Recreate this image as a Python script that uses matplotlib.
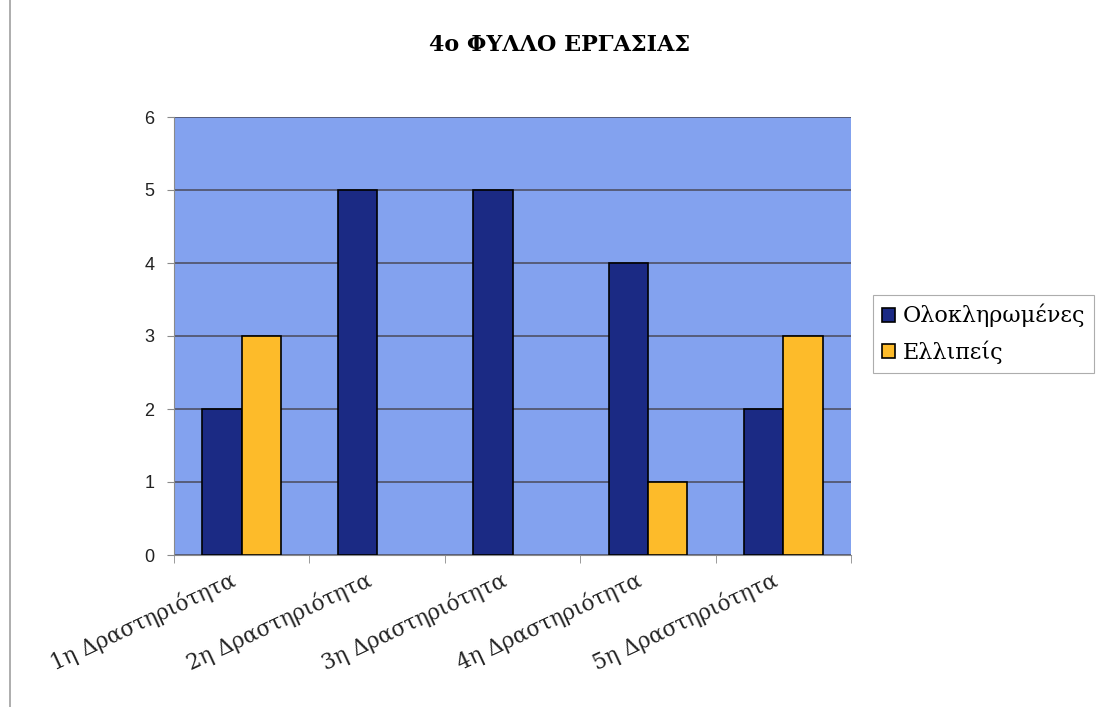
import matplotlib
matplotlib.use('Agg')
import matplotlib.pyplot as plt
import matplotlib.transforms as mtransforms
from matplotlib.lines import Line2D
import numpy as np

title = '4ο ΦΥΛΛΟ ΕΡΓΑΣΙΑΣ'
categories = ['1η Δραστηριότητα', '2η Δραστηριότητα', '3η Δραστηριότητα',
              '4η Δραστηριότητα', '5η Δραστηριότητα']
series_names = ['Ολοκληρωμένες', 'Ελλιπείς']
completed = [2, 5, 5, 4, 2]
incomplete = [3, 0, 0, 1, 3]

bg_color = '#83a2ef'
dark_blue = '#1b2a84'
yellow = '#fdbb2a'

fig = plt.figure(figsize=(11.02, 7.07), dpi=100)
ax = fig.add_axes([174 / 1102, 1 - 555 / 707, 677 / 1102, 438 / 707])

x = np.arange(len(categories))
w = 0.29
b1 = ax.bar(x - w / 2, completed, w, color=dark_blue, edgecolor='black', linewidth=1.2,
            label=series_names[0], zorder=3)
b2 = ax.bar(x + w / 2, incomplete, w, color=yellow, edgecolor='black', linewidth=1.2,
            label=series_names[1], zorder=3)
# empty bars leave no outline on the axis
for bars in (b1, b2):
    for p in bars:
        if p.get_height() == 0:
            p.set_visible(False)

ax.set_facecolor(bg_color)
ax.set_xlim(-0.5, len(categories) - 0.5)
ax.set_ylim(0, 6)
ax.set_yticks(range(7))
ax.yaxis.grid(True, color='#4a4a5a', linewidth=1.1, zorder=1)
ax.set_axisbelow(True)

for side in ['top', 'right']:
    ax.spines[side].set_visible(False)
ax.spines['left'].set_color('#8a8a8a')
ax.spines['bottom'].set_color('#8a8a8a')

ax.tick_params(axis='y', labelsize=13, length=5, color='#8a8a8a', pad=9)
for lab in ax.get_yticklabels():
    lab.set_family('Liberation Sans')
    lab.set_color('#222222')

# category labels sit at the centres, tick marks between categories
ax.set_xticks(x)
ax.set_xticklabels(categories, rotation=25, ha='right', rotation_mode='anchor',
                   family='DejaVu Serif', fontsize=15.5, color='#222222')
ax.tick_params(axis='x', which='major', length=0, pad=10)
shift = mtransforms.ScaledTranslation(-12 / 100, 0, fig.dpi_scale_trans)
for lab in ax.get_xticklabels():
    lab.set_transform(lab.get_transform() + shift)
ax.set_xticks(np.arange(-0.5, len(categories)), minor=True)
ax.tick_params(axis='x', which='minor', length=6, color='#8a8a8a')

fig.text(560 / 1102, 1 - 45 / 707, title, ha='center', va='center',
         family='DejaVu Serif', fontweight='bold', fontsize=16)

leg = fig.legend(loc='upper left', bbox_to_anchor=(873 / 1102, 1 - 295 / 707),
                 prop={'family': 'DejaVu Serif', 'size': 16},
                 frameon=True, fancybox=False, edgecolor='#999999',
                 handlelength=0.6, handleheight=0.6, handletextpad=0.35,
                 labelspacing=0.6, borderpad=0.4, borderaxespad=0)
leg.get_frame().set_linewidth(0.8)

# thin border line on the left of the sheet
fig.add_artist(Line2D([10 / 1102, 10 / 1102], [0, 1], color='#a0a0a0', linewidth=1.2))

fig.savefig('out.png', dpi=100)
